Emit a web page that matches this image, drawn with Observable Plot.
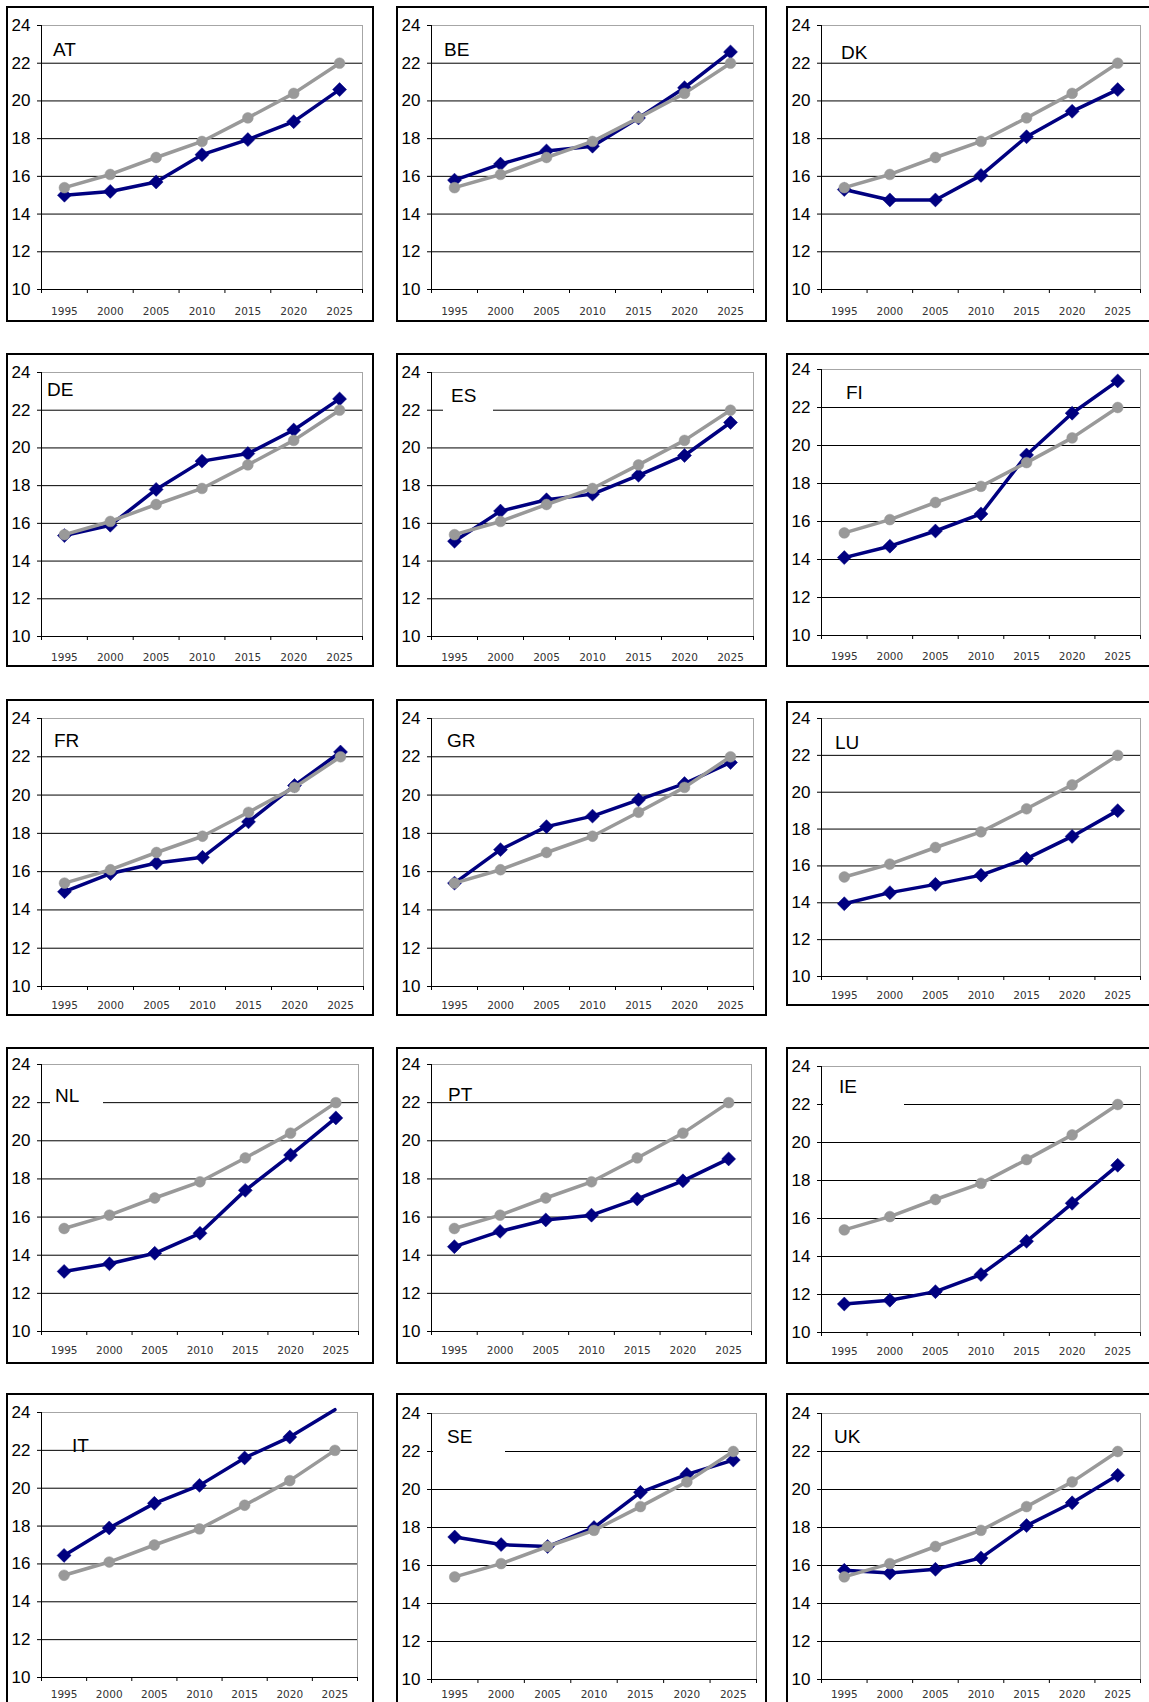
<!DOCTYPE html>
<html><head><meta charset="utf-8">
<script src="https://cdn.jsdelivr.net/npm/d3@7"></script>
<script src="https://cdn.jsdelivr.net/npm/@observablehq/plot@0.6"></script>
<style>
html,body{margin:0;padding:0;background:#fff;}
#page{position:relative;width:1149px;height:1702px;overflow:hidden;background:#fff;}
.frame{position:absolute;box-sizing:border-box;border:2px solid #000;pointer-events:none;}
.panel{position:absolute;overflow:visible;}
.panel svg{display:block;max-width:none !important;}
.box{position:absolute;background:#fff;}
.title{position:absolute;font-family:"Liberation Sans",Arial,sans-serif;font-size:19px;line-height:19px;color:#000;white-space:nowrap;}
</style></head><body><div id="page"></div>
<script>
// ---------- data ----------
const years = [1995, 2000, 2005, 2010, 2015, 2020, 2025];
const yearLabels = ["1995", "2000", "2005", "2010", "2015", "2020", "2025"];
const xEdges = [1992.5, 1997.5, 2002.5, 2007.5, 2012.5, 2017.5, 2022.5, 2027.5];
const yTicks = [10, 12, 14, 16, 18, 20, 22, 24];
const gridValues = [12, 14, 16, 18, 20, 22];

const EU = [15.4, 16.1, 17.0, 17.85, 19.1, 20.4, 22.0];
const AT = [15.0, 15.2, 15.7, 17.15, 17.95, 18.9, 20.6];
const BE = [15.8, 16.65, 17.35, 17.6, 19.1, 20.7, 22.6];
const DK = [15.3, 14.75, 14.75, 16.05, 18.1, 19.45, 20.6];
const DE = [15.35, 15.9, 17.8, 19.3, 19.7, 20.95, 22.6];
const ES = [15.05, 16.65, 17.25, 17.55, 18.55, 19.6, 21.35];
const FI = [14.1, 14.7, 15.5, 16.4, 19.5, 21.7, 23.4];
const FR = [14.95, 15.9, 16.45, 16.75, 18.6, 20.5, 22.25];
const GR = [15.4, 17.15, 18.35, 18.9, 19.75, 20.6, 21.7];
const LU = [13.95, 14.55, 15.0, 15.5, 16.4, 17.6, 19.0];
const NL = [13.15, 13.55, 14.1, 15.15, 17.4, 19.25, 21.2];
const PT = [14.45, 15.25, 15.85, 16.1, 16.95, 17.9, 19.05];
const IE = [11.5, 11.7, 12.15, 13.05, 14.8, 16.8, 18.8];
const IT = [16.45, 17.9, 19.2, 20.15, 21.6, 22.7, 24.15];
const SE = [17.5, 17.1, 17.0, 18.0, 19.85, 20.8, 21.55];
const UK = [15.75, 15.6, 15.8, 16.4, 18.1, 19.3, 20.75];

const countries = ["AT", "BE", "DK", "DE", "ES", "FI", "FR", "GR", "LU", "NL", "PT", "IE", "IT", "SE", "UK"];
const seriesByCountry = {AT, BE, DK, DE, ES, FI, FR, GR, LU, NL, PT, IE, IT, SE, UK};

// ---------- layout (page pixels) ----------
const colFrame = [[6, 374], [396, 767], [786, 1170]];
const colPlot = [[41, 362], [431, 753], [821, 1140]];
const rowFrame = [[6, 322], [353, 667], [699, 1016], [1047, 1364], [1393, 1740]];
const rowPlot = [[25, 289], [372, 636], [718, 986], [1064, 1331], [1412, 1677]];
const rowLabelPad = [18, 17, 15, 15, 13];
const overrides = {
  FI: {plot: {t: 369, b: 635}},
  FR: {plot: {r: 363}},
  LU: {frame: {t: 701, b: 1006}, plot: {b: 976}},
  NL: {plot: {r: 358}},
  PT: {plot: {r: 751}},
  IE: {plot: {t: 1066, b: 1332}},
  IT: {plot: {r: 357}},
  SE: {plot: {t: 1413, b: 1679, r: 756}, pad: 11},
  UK: {plot: {t: 1413, b: 1679}, pad: 11}
};
// title offsets (cap-top) relative to plot top-left; optional white box [x0,x1,y0,y1]
const titleLayout = {
  AT: {dx: 12, dy: 17}, BE: {dx: 13, dy: 17}, DK: {dx: 20, dy: 20},
  DE: {dx: 6, dy: 10}, ES: {dx: 20, dy: 16, box: [12, 62, 8, 40]}, FI: {dx: 25, dy: 16},
  FR: {dx: 13, dy: 15}, GR: {dx: 16, dy: 15}, LU: {dx: 14, dy: 17},
  NL: {dx: 14, dy: 24, box: [9, 62, 16, 41]}, PT: {dx: 17, dy: 23}, IE: {dx: 18, dy: 13, box: [2, 83, 5, 41]},
  IT: {dx: 31, dy: 26}, SE: {dx: 16, dy: 16, box: [2, 74, 5, 41]}, UK: {dx: 13, dy: 16}
};

const NAVY = "#000080", GREY = "#999999";
const page = document.getElementById("page");

countries.forEach((code, i) => {
  const row = Math.floor(i / 3), col = i % 3;
  const ov = overrides[code] || {};
  const f = Object.assign({l: colFrame[col][0], r: colFrame[col][1], t: rowFrame[row][0], b: rowFrame[row][1]}, ov.frame || {});
  const p = Object.assign({l: colPlot[col][0], r: colPlot[col][1], t: rowPlot[row][0], b: rowPlot[row][1]}, ov.plot || {});
  const pad = ov.pad != null ? ov.pad : rowLabelPad[row];
  const vals = seriesByCountry[code];
  const navy = years.map((year, k) => ({year, v: vals[k]}));
  const grey = years.map((year, k) => ({year, v: EU[k]}));
  const yMax = yTicks[yTicks.length - 1];
  const W = f.r - f.l, H = f.b - f.t;

  const chart = Plot.plot({
    width: W,
    height: H,
    marginLeft: p.l - f.l,
    marginRight: f.r - p.r,
    marginTop: p.t - f.t,
    marginBottom: f.b - p.b,
    x: {domain: [xEdges[0], xEdges[xEdges.length - 1]], label: null},
    y: {domain: [yTicks[0], yMax], label: null},
    style: {fontFamily: "'Liberation Sans', Arial, sans-serif", fontSize: "17px", color: "#000", background: "transparent", overflow: "visible", maxWidth: "none"},
    marks: [
      Plot.ruleY(gridValues, {stroke: "#000", strokeWidth: 1}),
      Plot.frame({stroke: "#a6a6a6", strokeWidth: 1}),
      Plot.ruleY([yTicks[0]], {stroke: "#000", strokeWidth: 1}),
      Plot.ruleX([xEdges[0]], {stroke: "#000", strokeWidth: 1}),
      Plot.axisY({ticks: yTicks, tickSize: 4, tickPadding: 7, tickFormat: d => String(d), label: null}),
      Plot.axisX({ticks: xEdges, tickSize: 4, tickFormat: () => "", label: null}),
      Plot.axisX({ticks: years, tickSize: 0, tickPadding: pad, label: null,
        tickFormat: d => yearLabels[years.indexOf(d)],
        fontSize: 10.5, fontFamily: "'DejaVu Sans', Verdana, sans-serif", fill: "#333"}),
      Plot.line(navy, {x: "year", y: "v", stroke: NAVY, strokeWidth: 3.5}),
      Plot.dot(navy.filter(d => d.v <= yMax), {x: "year", y: "v", symbol: "diamond2", r: 6.3, fill: NAVY, stroke: NAVY, strokeWidth: 0.5}),
      Plot.line(grey, {x: "year", y: "v", stroke: GREY, strokeWidth: 3.5}),
      Plot.dot(grey, {x: "year", y: "v", r: 5.4, fill: GREY, stroke: GREY, strokeWidth: 0.5})
    ]
  });
  chart.style.maxWidth = "none";
  chart.style.width = W + "px";
  chart.style.height = H + "px";

  const holder = document.createElement("div");
  holder.className = "panel";
  holder.style.left = f.l + "px";
  holder.style.top = f.t + "px";
  holder.style.width = W + "px";
  holder.style.height = H + "px";
  holder.appendChild(chart);
  page.appendChild(holder);

  const tl = titleLayout[code];
  if (tl.box) {
    const b = document.createElement("div");
    b.className = "box";
    b.style.left = (p.l + tl.box[0]) + "px";
    b.style.top = (p.t + tl.box[2]) + "px";
    b.style.width = (tl.box[1] - tl.box[0]) + "px";
    b.style.height = (tl.box[3] - tl.box[2]) + "px";
    page.appendChild(b);
  }
  const t = document.createElement("div");
  t.className = "title";
  t.textContent = code;
  t.style.left = (p.l + tl.dx) + "px";
  t.style.top = (p.t + tl.dy - 2.5) + "px";
  page.appendChild(t);

  const fr = document.createElement("div");
  fr.className = "frame";
  fr.style.left = f.l + "px";
  fr.style.top = f.t + "px";
  fr.style.width = W + "px";
  fr.style.height = H + "px";
  page.appendChild(fr);
});
</script>
</body></html>
